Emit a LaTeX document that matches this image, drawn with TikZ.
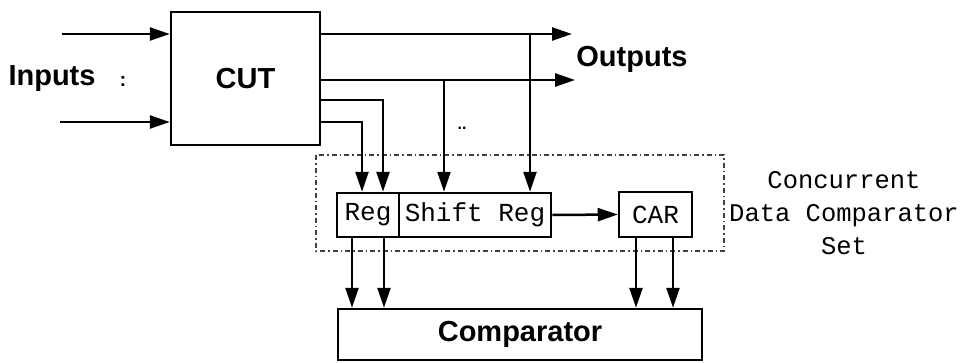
\documentclass[tikz,border=0pt]{standalone}
\usepackage{fontspec}
\setmainfont{Liberation Sans}
\setmonofont{Liberation Mono}
\usetikzlibrary{arrows.meta, positioning}
\tikzset{
    % boxes
    block/.style={
        rectangle,
        draw=black,
        line width=2.5pt,
        align=center,
        inner sep=0pt,
        font=\fontsize{29}{33}\selectfont\bfseries
    },
    monoblock/.style={
        block,
        font=\fontsize{26}{33}\selectfont\ttfamily
    },
    label/.style={
        align=center,
        inner sep=0pt,
        font=\fontsize{29}{33}\selectfont\bfseries
    },
    % connectors
    wire/.style={
        line width=2.5pt,
        draw=black
    },
    arrow/.style={
        wire,
        -{Triangle[length=20pt,width=13pt]}
    },
    setline/.style={
        line width=1.5pt,
        draw=black!75,
        dash pattern=on 5pt off 3pt on 1.5pt off 3pt
    }
}
\begin{document}
\begin{tikzpicture}[x=1pt,y=-1pt]
    \useasboundingbox (0,0) rectangle (966,362);

    % main boxes
    \node[block, minimum width=149pt, minimum height=133pt] (cut) at (245.5,78.5) {CUT};
    \node[monoblock, minimum width=62pt, minimum height=44pt] (reg) at (368,215) {Reg};
    \node[monoblock, minimum width=152pt, minimum height=44pt] (shift) at (475,215) {Shift Reg};
    \node[monoblock, minimum width=73pt, minimum height=45pt] (car) at (655.5,214.5) {CAR};
    \node[block, minimum width=364pt, minimum height=51pt] (comp) at (520,334.5) {Comparator};

    % comparator set frame
    \draw[setline] (316,155) rectangle (724,251);

    % labels
    \node[label] (inputs) at (52,79) {Inputs};
    \node[label, font=\fontsize{20}{20}\selectfont\bfseries] (idots) at (123,81) {:};
    \node[label] (outputs) at (632,59) {Outputs};
    \node[label, font=\fontsize{16}{16}\selectfont\bfseries] (odots) at (462,128) {..};
    \node[label, font=\fontsize{25.5}{33}\selectfont\ttfamily] (setlbl) at (844,213)
        {Concurrent\\Data Comparator\\Set};

    % inputs and outputs
    \coordinate (in1) at (62,34);
    \coordinate (in2) at (60,122);
    \coordinate (out1) at (572,34);
    \coordinate (out2) at (575,80);
    \draw[arrow] (in1) -- (in1 -| cut.west);
    \draw[arrow] (in2) -- (in2 -| cut.west);
    \draw[arrow] (out1 -| cut.east) -- (out1);
    \draw[arrow] (out2 -| cut.east) -- (out2);

    % taps into the registers
    \coordinate (r1) at (383,100);
    \coordinate (r2) at (362,122);
    \coordinate (s1) at (444,80);
    \coordinate (s2) at (530,34);
    \draw[arrow] (r1 -| cut.east) -| (r1 |- reg.north);
    \draw[arrow] (r2 -| cut.east) -| (r2 |- reg.north);
    \draw[arrow] (s1) -- (s1 |- shift.north);
    \draw[arrow] (s2) -- (s2 |- shift.north);
    \draw[arrow] (shift.east) -- (car.west);

    % into the comparator
    \coordinate (c1) at (352,0);
    \coordinate (c2) at (384,0);
    \coordinate (c3) at (636,0);
    \coordinate (c4) at (673,0);
    \draw[arrow] (c1 |- reg.south) -- (c1 |- comp.north);
    \draw[arrow] (c2 |- reg.south) -- (c2 |- comp.north);
    \draw[arrow] (c3 |- car.south) -- (c3 |- comp.north);
    \draw[arrow] (c4 |- car.south) -- (c4 |- comp.north);
\end{tikzpicture}
\end{document}
